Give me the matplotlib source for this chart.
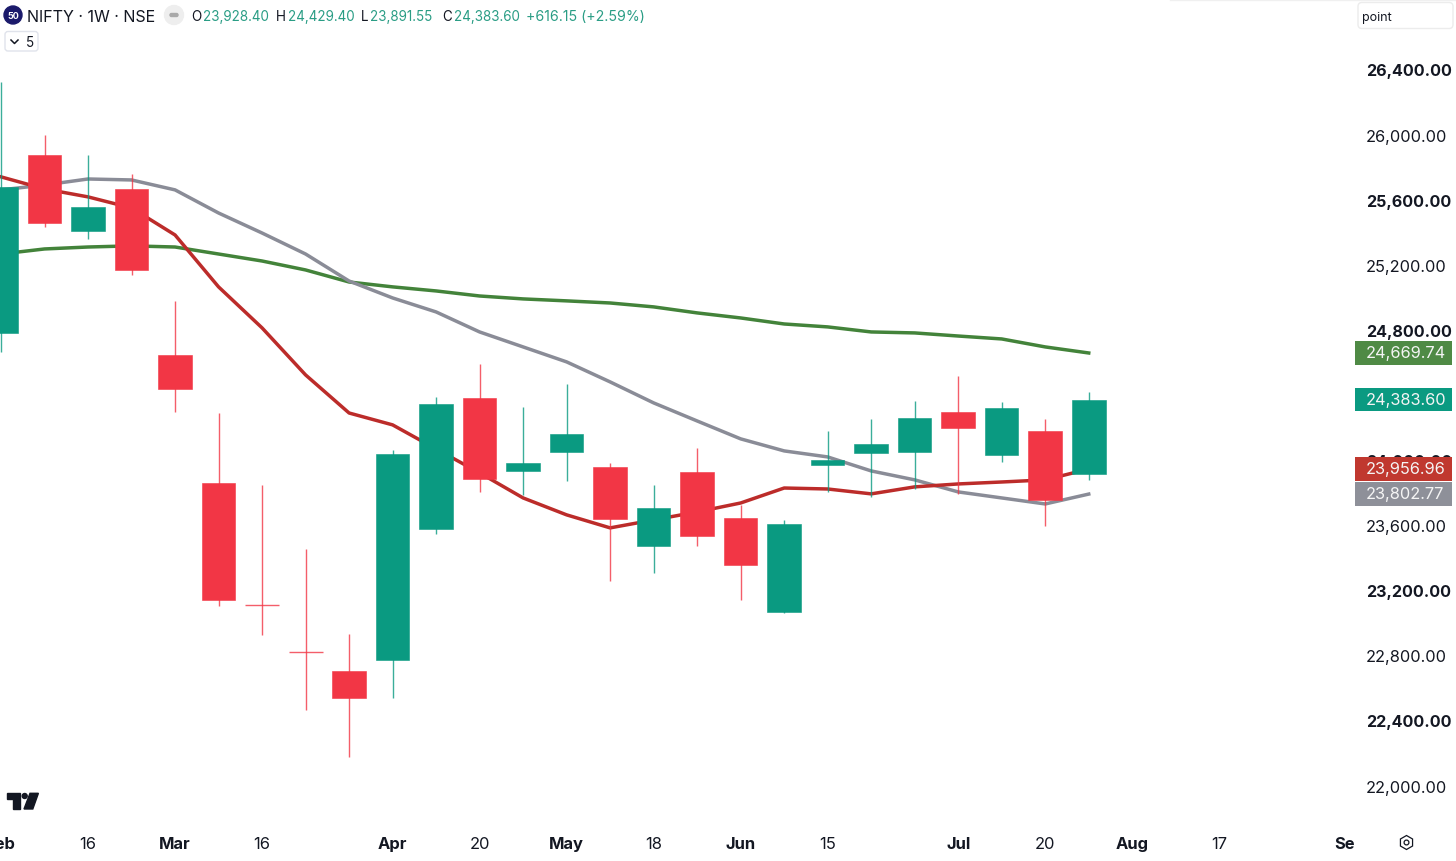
import matplotlib
matplotlib.use('Agg')
import matplotlib.pyplot as plt
from matplotlib.patches import Circle, FancyBboxPatch, Polygon, Rectangle, RegularPolygon

plt.rcParams['font.family'] = ['Inter', 'DejaVu Sans']

# weekly candles
opens = [24793, 25887, 25420, 25678, 24658, 23871, 23122, 22830, 22716, 22783, 23590, 24393, 23945,
         24062, 23969, 23484, 23941, 23656, 23080, 23984, 24055, 24063, 24306, 24043, 24191, 23928.40]
highs = [26335, 26010, 25887, 25770, 24990, 24301, 23861, 23466, 22943, 24074, 24401, 24602, 24338,
         24480, 23996, 23859, 24088, 23736, 23644, 24191, 24264, 24375, 24529, 24369, 24264, 24429.40]
lows = [24676, 25444, 25371, 25149, 24307, 23115, 22937, 22476, 22187, 22550, 23558, 23816, 23799,
        23885, 23269, 23320, 23486, 23154, 23074, 23818, 23787, 23834, 23805, 24000, 23607, 23891.55]
closes = [25690, 25469, 25567, 25180, 24449, 23152, 23120, 22826, 22552, 24051, 24357, 23898, 23996,
          24174, 23650, 23718, 23547, 23367, 23621, 24012, 24111, 24271, 24209, 24334, 23769, 24383.60]

# moving averages
ma_red = [25752, 25678, 25629, 25561, 25395, 25076, 24824, 24535, 24301, 24228, 24080, 23933, 23779,
          23675, 23595, 23644, 23693, 23748, 23840, 23834, 23804, 23847, 23865, 23877, 23890, 23956.96]
ma_gray = [25672, 25702, 25739, 25733, 25672, 25530, 25407, 25278, 25112, 25008, 24922, 24799, 24707,
           24615, 24492, 24363, 24252, 24142, 24068, 24031, 23945, 23890, 23816, 23779, 23742, 23802.77]
ma_green = [25278, 25309, 25321, 25328, 25321, 25278, 25235, 25180, 25106, 25076, 25051, 25020, 25002,
            24990, 24977, 24953, 24916, 24885, 24848, 24830, 24799, 24793, 24774, 24756, 24707, 24669.74]

y_ticks = [26400, 26000, 25600, 25200, 24800, 24400, 24000, 23600, 23200, 22800, 22400, 22000]
y_bold = [26400, 25600, 24800, 24000, 23200, 22400]

x_ticks = [0, 2, 4, 6, 9, 11, 13, 15, 17, 19, 22, 24, 26, 28, 30.88]
x_labels = ['Feb', '16', 'Mar', '16', 'Apr', '20', 'May', '18', 'Jun', '15', 'Jul', '20', 'Aug', '17', 'Se']
x_bold = ['Feb', 'Mar', 'Apr', 'May', 'Jun', 'Jul', 'Aug', 'Se']

UP = '#0A9A81'
DOWN = '#F23645'
INK = '#131722'
W, H = 1456, 862

fig = plt.figure(figsize=(W / 100, H / 100), dpi=100)
ax = fig.add_axes([0, 0, 1, 1])
ax.set_xlim(-1.0 / 43.51, (W - 1.0) / 43.51)
ax.set_ylim(21548, 26845)
ax.axis('off')

# averages sit under the candles
n = list(range(len(closes)))
ax.plot(n, ma_green, color='#43833A', lw=2.5, zorder=2)
ax.plot(n, ma_gray, color='#8A8C97', lw=2.5, zorder=2)
ax.plot(n, ma_red, color='#BC2C2A', lw=2.5, zorder=2)

for i in n:
    col = UP if closes[i] >= opens[i] else DOWN
    ax.vlines(i, lows[i], highs[i], color=col, lw=1, alpha=0.8, zorder=3)
    top, bot = max(opens[i], closes[i]), min(opens[i], closes[i])
    if top - bot < 10:
        ax.hlines(top, i - 0.39, i + 0.39, color=col, lw=1, alpha=0.8, zorder=4)
    else:
        ax.bar(i, top - bot, bottom=bot, width=0.77, color=col, edgecolor=col, lw=0.4, zorder=4)

# price axis
for t in y_ticks:
    bold = t in y_bold
    ax.annotate(f'{t:,.2f}', xy=((1366 - 1.0) / 43.51, t), xytext=(0, 0.3), textcoords='offset points',
                ha='left', va='center', fontsize=11.6 if bold else 11.8, color=INK, zorder=5,
                fontweight='bold' if bold else 'normal')

# date axis
y_date = 21548 + 18 * 6.145
for x, lab in zip(x_ticks, x_labels):
    ax.text(x, y_date, lab, ha='center', va='center', fontsize=11.9, color=INK,
            fontweight='bold' if lab in x_bold else 'normal')

# everything below is the chart's furniture, in pixel coordinates
top = fig.add_axes([0, 0, 1, 1], facecolor='none')
top.set_xlim(0, W)
top.set_ylim(H, 0)
top.axis('off')


def y_px(price):
    return H - ax.transData.transform((0, price))[1]


# last value tags
tags = [(ma_green[-1], '#4F8A45'), (closes[-1], UP), (ma_red[-1], '#C0382F'), (ma_gray[-1], '#8E9099')]
for val, col in tags:
    yc = y_px(val)
    top.add_patch(Rectangle((1355, yc - 11.7), 97, 23.4, facecolor=col, edgecolor='none', zorder=6))
    top.text(1366, yc - 0.5, f'{val:,.2f}', ha='left', va='center', fontsize=11.8, color='#F4F4F4', zorder=7)

# header
top.add_patch(Circle((13, 16), 9, color='#1B1A6B'))
top.text(13, 16.5, '50', color='white', fontsize=6.5, fontweight='bold', ha='center', va='center')
top.text(27, 17.3, 'NIFTY · 1W · NSE', color=INK, fontsize=11.55, ha='left', va='center')
top.add_patch(Circle((174, 16), 9.5, color='#EEEEEE'))
top.add_patch(FancyBboxPatch((170, 14.5), 8, 3, boxstyle='round,pad=0,rounding_size=1.5', color='#A9A9A9'))
ohlc = [(191.5, 'O', 203.5, opens[-1]), (276, 'H', 288, highs[-1]),
        (360.5, 'L', 370, lows[-1]), (442, 'C', 454, closes[-1])]
for x0, letter, x1, val in ohlc:
    top.text(x0, 17.3, letter, color=INK, fontsize=9.7, ha='left', va='center')
    top.text(x1, 17.3, f'{val:,.2f}', color='#2A9D85', fontsize=9.7, ha='left', va='center')
top.text(526, 17.3, '+616.15 (+2.59%)', color='#2A9D85', fontsize=10.2, ha='left', va='center')

top.add_patch(FancyBboxPatch((5, 32.5), 33, 19.5, boxstyle='round,pad=0,rounding_size=3',
                             facecolor='white', edgecolor='#E0E3EB', lw=1))
top.plot([11, 14.5, 18], [41, 44.5, 41], color=INK, lw=1.1)
top.text(26, 43.3, '5', color=INK, fontsize=9.7, ha='left', va='center')

# symbol box at the top right
top.plot([1170, W], [0.5, 0.5], color='#F0F0F0', lw=1)
top.add_patch(FancyBboxPatch((1358, 3.5), 95, 26, boxstyle='round,pad=0,rounding_size=4',
                             facecolor='white', edgecolor='#ECECEC', lw=1))
top.text(1362, 18, 'point', color=INK, fontsize=9, ha='left', va='center')

# logo
top.add_patch(Polygon([(7.3, 794.3), (20, 794.3), (20, 810), (12.7, 810), (12.7, 800), (7.3, 800)], color=INK))
top.add_patch(Circle((24.7, 797), 2.5, color=INK))
top.add_patch(Polygon([(30, 794.3), (38.4, 794.3), (32.8, 810), (24, 810)], color=INK))

# settings icon
top.add_patch(RegularPolygon((1406.5, 843.5), 6, radius=7, orientation=0,
                             facecolor='white', edgecolor=INK, lw=0.9))
top.add_patch(Circle((1406.5, 843.5), 2.4, facecolor='white', edgecolor=INK, lw=0.9))

fig.savefig('out.png', dpi=100)
